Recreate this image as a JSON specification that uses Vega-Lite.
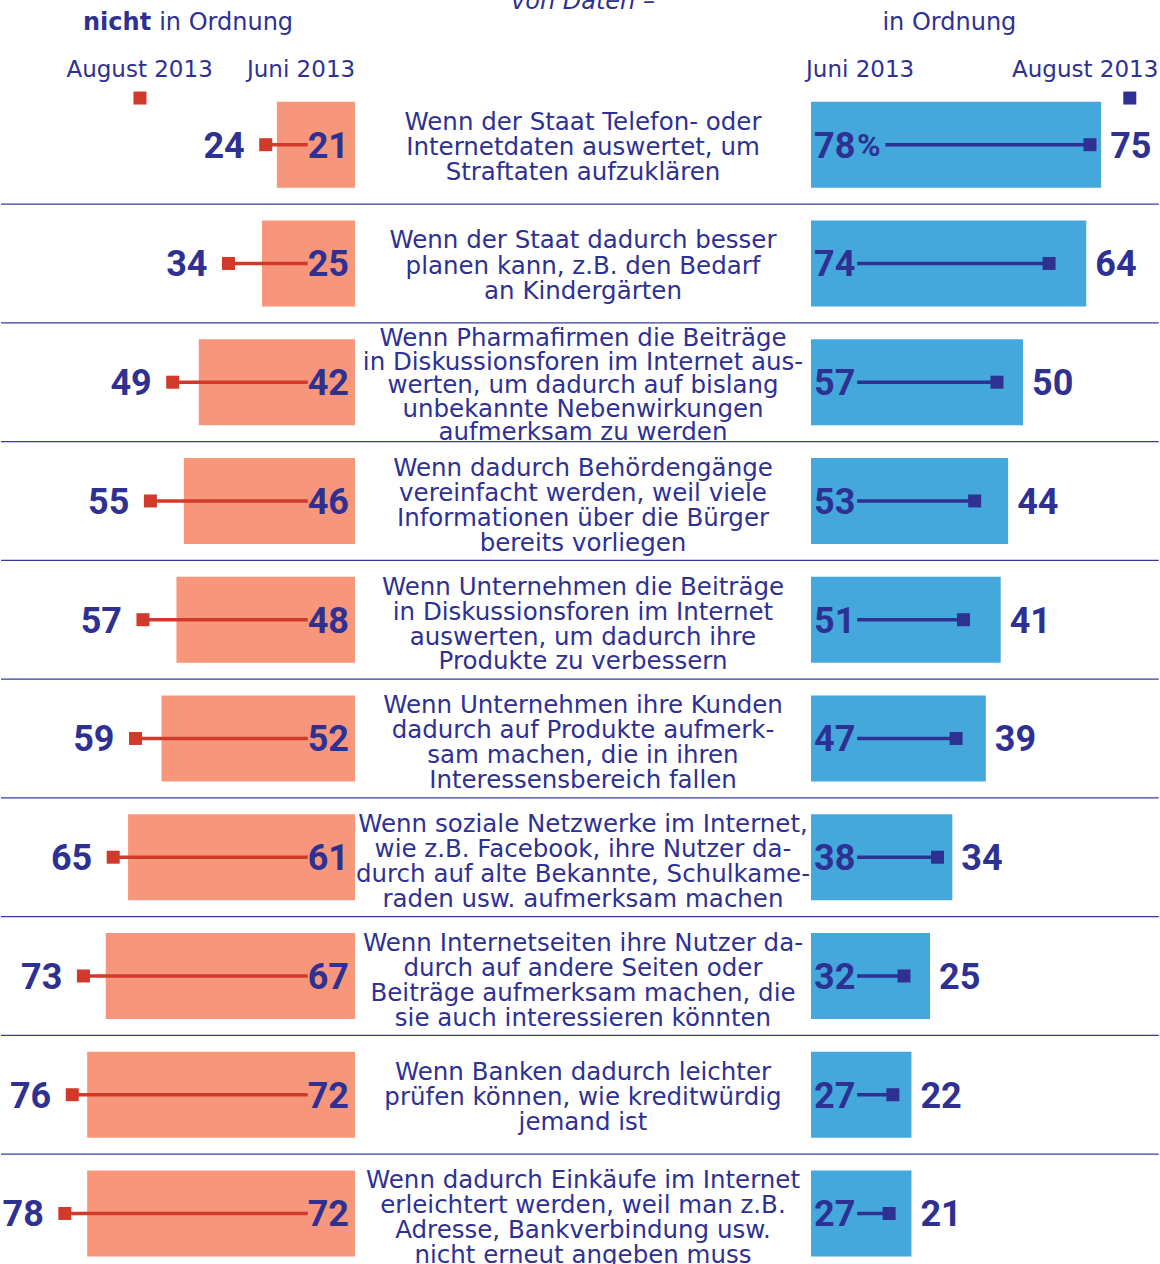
{
  "$schema": "https://vega.github.io/schema/vega-lite/v6.json",
  "padding": 0,
  "spacing": 0,
  "bounds": "flush",
  "background": "white",
  "config": {"view": {"stroke": null}, "font": "DejaVu Sans"},
  "datasets": {
    "rows": [
      {"i": 1, "nicht_jun": 21, "nicht_aug": 24, "ok_jun": 78, "ok_aug": 75, "lines": 3, "text": "Wenn der Staat Telefon- oder|Internetdaten auswertet, um|Straftaten aufzuklären"},
      {"i": 2, "nicht_jun": 25, "nicht_aug": 34, "ok_jun": 74, "ok_aug": 64, "lines": 3, "text": "Wenn der Staat dadurch besser|planen kann, z.B. den Bedarf|an Kindergärten"},
      {"i": 3, "nicht_jun": 42, "nicht_aug": 49, "ok_jun": 57, "ok_aug": 50, "lines": 5, "text": "Wenn Pharmafirmen die Beiträge|in Diskussionsforen im Internet aus-|werten, um dadurch auf bislang|unbekannte Nebenwirkungen|aufmerksam zu werden"},
      {"i": 4, "nicht_jun": 46, "nicht_aug": 55, "ok_jun": 53, "ok_aug": 44, "lines": 4, "text": "Wenn dadurch Behördengänge|vereinfacht werden, weil viele|Informationen über die Bürger|bereits vorliegen"},
      {"i": 5, "nicht_jun": 48, "nicht_aug": 57, "ok_jun": 51, "ok_aug": 41, "lines": 4, "text": "Wenn Unternehmen die Beiträge|in Diskussionsforen im Internet|auswerten, um dadurch ihre|Produkte zu verbessern"},
      {"i": 6, "nicht_jun": 52, "nicht_aug": 59, "ok_jun": 47, "ok_aug": 39, "lines": 4, "text": "Wenn Unternehmen ihre Kunden|dadurch auf Produkte aufmerk-|sam machen, die in ihren|Interessensbereich fallen"},
      {"i": 7, "nicht_jun": 61, "nicht_aug": 65, "ok_jun": 38, "ok_aug": 34, "lines": 4, "text": "Wenn soziale Netzwerke im Internet,|wie z.B. Facebook, ihre Nutzer da-|durch auf alte Bekannte, Schulkame-|raden usw. aufmerksam machen"},
      {"i": 8, "nicht_jun": 67, "nicht_aug": 73, "ok_jun": 32, "ok_aug": 25, "lines": 4, "text": "Wenn Internetseiten ihre Nutzer da-|durch auf andere Seiten oder|Beiträge aufmerksam machen, die|sie auch interessieren könnten"},
      {"i": 9, "nicht_jun": 72, "nicht_aug": 76, "ok_jun": 27, "ok_aug": 22, "lines": 3, "text": "Wenn Banken dadurch leichter|prüfen können, wie kreditwürdig|jemand ist"},
      {"i": 10, "nicht_jun": 72, "nicht_aug": 78, "ok_jun": 27, "ok_aug": 21, "lines": 4, "text": "Wenn dadurch Einkäufe im Internet|erleichtert werden, weil man z.B.|Adresse, Bankverbindung usw.|nicht erneut angeben muss"}
    ]
  },
  "hconcat": [
    {
      "width": 354,
      "height": 1264,
      "data": {"name": "rows"},
      "encoding": {
        "y": {"field": "i", "type": "quantitative", "scale": {"domain": [-0.2185, 10.4255], "reverse": true, "nice": false, "zero": false, "padding": 0}, "axis": null}
      },
      "layer": [
        {
          "transform": [{"filter": "datum.i < 10"}],
          "mark": {"type": "rule", "color": "#3a3a9c", "strokeWidth": 1.2, "yOffset": 59.4},
          "encoding": {
            "x": {"datum": 0, "type": "quantitative", "scale": {"domain": [0, 95.16], "reverse": true, "nice": false, "zero": false}, "axis": null},
            "x2": {"datum": 95.16}
          }
        },
        {
          "mark": {"type": "bar", "orient": "horizontal", "size": 86, "color": "#f7967a"},
          "encoding": {
            "x": {"field": "nicht_jun", "type": "quantitative"},
            "x2": {"datum": 0}
          }
        },
        {
          "mark": {"type": "rule", "color": "#d13a2b", "strokeWidth": 3.5},
          "encoding": {
            "x": {"field": "nicht_aug", "type": "quantitative"},
            "x2": {"datum": 12.7}
          }
        },
        {
          "mark": {"type": "square", "size": 169, "color": "#d13a2b", "opacity": 1},
          "encoding": {"x": {"field": "nicht_aug", "type": "quantitative"}}
        },
        {
          "mark": {"type": "text", "align": "right", "baseline": "middle", "dx": -6, "dy": 2, "font": "Roboto", "fontWeight": "bold", "fontSize": 36, "color": "#2e3192"},
          "encoding": {"x": {"datum": 0, "type": "quantitative"}, "text": {"field": "nicht_jun", "type": "quantitative"}}
        },
        {
          "mark": {"type": "text", "align": "right", "baseline": "middle", "dx": -21, "dy": 2, "font": "Roboto", "fontWeight": "bold", "fontSize": 36, "color": "#2e3192"},
          "encoding": {"x": {"field": "nicht_aug", "type": "quantitative"}, "text": {"field": "nicht_aug", "type": "quantitative"}}
        },
        {
          "transform": [{"filter": "datum.i == 1"}],
          "mark": {"type": "text", "align": "right", "baseline": "alphabetic", "fontSize": 24, "fontWeight": "bold", "color": "#2e3192"},
          "encoding": {"x": {"datum": 54.8, "type": "quantitative"}, "y": {"datum": 0.034, "type": "quantitative"}, "text": {"value": "nicht"}}
        },
        {
          "transform": [{"filter": "datum.i == 1"}],
          "mark": {"type": "text", "align": "left", "baseline": "alphabetic", "dx": 8, "fontSize": 24, "color": "#2e3192"},
          "encoding": {"x": {"datum": 54.8, "type": "quantitative"}, "y": {"datum": 0.034, "type": "quantitative"}, "text": {"value": "in Ordnung"}}
        },
        {
          "transform": [{"filter": "datum.i == 1"}],
          "mark": {"type": "text", "align": "center", "baseline": "alphabetic", "fontSize": 23, "color": "#2e3192"},
          "encoding": {"x": {"datum": 57.9, "type": "quantitative"}, "y": {"datum": 0.43, "type": "quantitative"}, "text": {"value": "August 2013"}}
        },
        {
          "transform": [{"filter": "datum.i == 1"}],
          "mark": {"type": "text", "align": "center", "baseline": "alphabetic", "fontSize": 23, "color": "#2e3192"},
          "encoding": {"x": {"datum": 14.5, "type": "quantitative"}, "y": {"datum": 0.43, "type": "quantitative"}, "text": {"value": "Juni 2013"}}
        },
        {
          "transform": [{"filter": "datum.i == 1"}],
          "mark": {"type": "square", "size": 169, "color": "#d13a2b", "opacity": 1},
          "encoding": {"x": {"datum": 57.8, "type": "quantitative"}, "y": {"datum": 0.607, "type": "quantitative"}}
        }
      ]
    },
    {
      "width": 456,
      "height": 1264,
      "data": {"name": "rows"},
      "encoding": {
        "y": {"field": "i", "type": "quantitative", "scale": {"domain": [-0.2185, 10.4255], "reverse": true, "nice": false, "zero": false, "padding": 0}, "axis": null}
      },
      "layer": [
        {
          "transform": [{"filter": "datum.i < 10"}],
          "mark": {"type": "rule", "color": "#3a3a9c", "strokeWidth": 1.2, "yOffset": 59.4},
          "encoding": {
            "x": {"datum": 0, "type": "quantitative", "scale": {"domain": [0, 1], "nice": false, "zero": false}, "axis": null},
            "x2": {"datum": 1}
          }
        },
        {
          "transform": [{"filter": "datum.lines == 3"}],
          "mark": {"type": "text", "align": "center", "baseline": "middle", "dy": -22, "fontSize": 24.5, "lineBreak": "|", "lineHeight": 25.3, "color": "#2e3192"},
          "encoding": {"x": {"datum": 0.5, "type": "quantitative"}, "text": {"field": "text", "type": "nominal"}}
        },
        {
          "transform": [{"filter": "datum.lines == 4"}],
          "mark": {"type": "text", "align": "center", "baseline": "middle", "dy": -32, "fontSize": 24.5, "lineBreak": "|", "lineHeight": 24.9, "color": "#2e3192"},
          "encoding": {"x": {"datum": 0.5, "type": "quantitative"}, "text": {"field": "text", "type": "nominal"}}
        },
        {
          "transform": [{"filter": "datum.lines == 5"}],
          "mark": {"type": "text", "align": "center", "baseline": "middle", "dy": -43, "fontSize": 24.5, "lineBreak": "|", "lineHeight": 23.5, "color": "#2e3192"},
          "encoding": {"x": {"datum": 0.5, "type": "quantitative"}, "text": {"field": "text", "type": "nominal"}}
        },
        {
          "transform": [{"filter": "datum.i == 1"}],
          "mark": {"type": "text", "align": "center", "baseline": "alphabetic", "fontSize": 24, "fontStyle": "italic", "color": "#2e3192", "clip": true},
          "encoding": {"x": {"datum": 0.5, "type": "quantitative"}, "y": {"datum": -0.143, "type": "quantitative"}, "text": {"value": "von Daten –"}}
        }
      ]
    },
    {
      "width": 350,
      "height": 1264,
      "data": {"name": "rows"},
      "encoding": {
        "y": {"field": "i", "type": "quantitative", "scale": {"domain": [-0.2185, 10.4255], "reverse": true, "nice": false, "zero": false, "padding": 0}, "axis": null}
      },
      "layer": [
        {
          "transform": [{"filter": "datum.i < 10"}],
          "mark": {"type": "rule", "color": "#3a3a9c", "strokeWidth": 1.2, "yOffset": 59.4},
          "encoding": {
            "x": {"datum": 0, "type": "quantitative", "scale": {"domain": [0, 94.09], "nice": false, "zero": false}, "axis": null},
            "x2": {"datum": 93.5}
          }
        },
        {
          "mark": {"type": "bar", "orient": "horizontal", "size": 86, "color": "#44a8dc"},
          "encoding": {
            "x": {"field": "ok_jun", "type": "quantitative"},
            "x2": {"datum": 0}
          }
        },
        {
          "transform": [{"filter": "datum.i > 1"}],
          "mark": {"type": "rule", "color": "#2e3192", "strokeWidth": 3.5},
          "encoding": {
            "x": {"field": "ok_aug", "type": "quantitative"},
            "x2": {"datum": 12.4}
          }
        },
        {
          "transform": [{"filter": "datum.i == 1"}],
          "mark": {"type": "rule", "color": "#2e3192", "strokeWidth": 3.5},
          "encoding": {
            "x": {"field": "ok_aug", "type": "quantitative"},
            "x2": {"datum": 20}
          }
        },
        {
          "mark": {"type": "square", "size": 169, "color": "#2e3192", "opacity": 1},
          "encoding": {"x": {"field": "ok_aug", "type": "quantitative"}}
        },
        {
          "mark": {"type": "text", "align": "left", "baseline": "middle", "dx": 3, "dy": 2, "font": "Roboto", "fontWeight": "bold", "fontSize": 36, "color": "#2e3192"},
          "encoding": {"x": {"datum": 0, "type": "quantitative"}, "text": {"field": "ok_jun", "type": "quantitative"}}
        },
        {
          "transform": [{"filter": "datum.i == 1"}],
          "mark": {"type": "text", "align": "left", "baseline": "middle", "dx": 46, "dy": 1, "font": "Roboto", "fontWeight": "bold", "fontSize": 32, "color": "#2e3192"},
          "encoding": {"x": {"datum": 0, "type": "quantitative"}, "text": {"value": "%"}}
        },
        {
          "mark": {"type": "text", "align": "left", "baseline": "middle", "dx": 9, "dy": 2, "font": "Roboto", "fontWeight": "bold", "fontSize": 36, "color": "#2e3192"},
          "encoding": {"x": {"field": "ok_jun", "type": "quantitative"}, "text": {"field": "ok_aug", "type": "quantitative"}}
        },
        {
          "transform": [{"filter": "datum.i == 1"}],
          "mark": {"type": "text", "align": "center", "baseline": "alphabetic", "fontSize": 24, "color": "#2e3192"},
          "encoding": {"x": {"datum": 37.2, "type": "quantitative"}, "y": {"datum": 0.034, "type": "quantitative"}, "text": {"value": "in Ordnung"}}
        },
        {
          "transform": [{"filter": "datum.i == 1"}],
          "mark": {"type": "text", "align": "center", "baseline": "alphabetic", "fontSize": 23, "color": "#2e3192"},
          "encoding": {"x": {"datum": 13.2, "type": "quantitative"}, "y": {"datum": 0.43, "type": "quantitative"}, "text": {"value": "Juni 2013"}}
        },
        {
          "transform": [{"filter": "datum.i == 1"}],
          "mark": {"type": "text", "align": "center", "baseline": "alphabetic", "fontSize": 23, "color": "#2e3192"},
          "encoding": {"x": {"datum": 73.7, "type": "quantitative"}, "y": {"datum": 0.43, "type": "quantitative"}, "text": {"value": "August 2013"}}
        },
        {
          "transform": [{"filter": "datum.i == 1"}],
          "mark": {"type": "square", "size": 169, "color": "#2e3192", "opacity": 1},
          "encoding": {"x": {"datum": 85.7, "type": "quantitative"}, "y": {"datum": 0.607, "type": "quantitative"}}
        }
      ]
    }
  ]
}
